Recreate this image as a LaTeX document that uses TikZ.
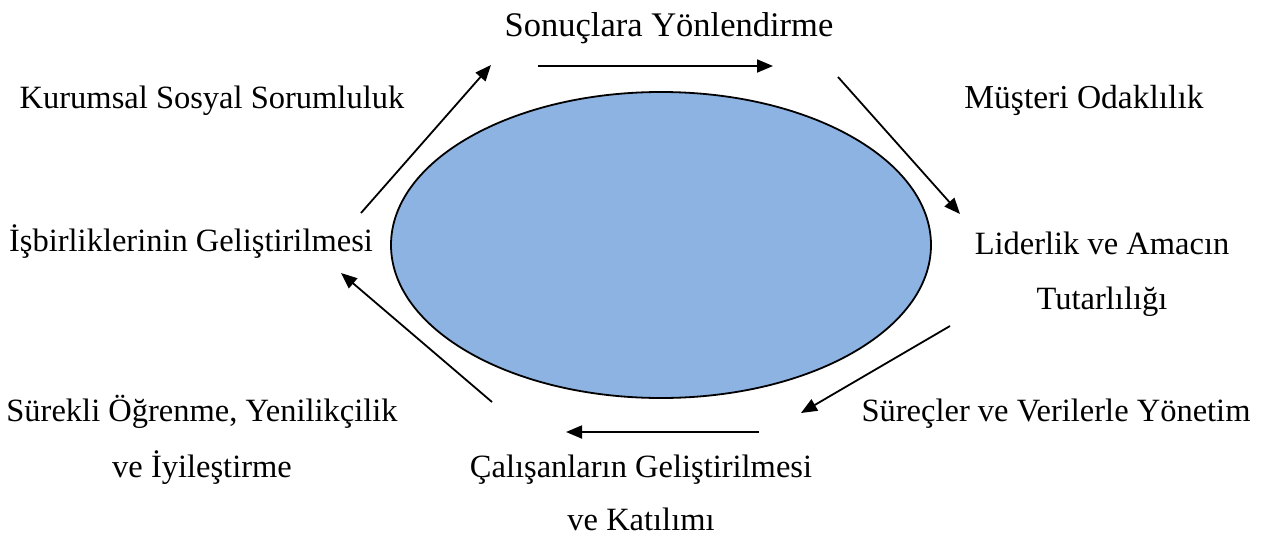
\documentclass[tikz,border=0pt]{standalone}
\usepackage{fontspec}
\setmainfont{Liberation Serif}
\usetikzlibrary{arrows.meta}
\definecolor{ellfill}{HTML}{8DB3E2}
\tikzset{
  lbl/.style={anchor=base, inner sep=0pt, font=\fontsize{32.5}{56}\selectfont, align=center},
  conn/.style={line width=1.8pt, -{Triangle[length=16pt,width=13pt]}},
}
\begin{document}
\begin{tikzpicture}[x=1pt,y=-1pt]
\useasboundingbox (0,0) rectangle (1271,536);
\draw[line width=1.8pt, fill=ellfill] (661,245) ellipse [x radius=270, y radius=153];
\node[lbl, font=\fontsize{34.5}{56}\selectfont] (t1) at (669,36) {Sonuçlara Yönlendirme};
\node[lbl] (t2) at (212,108) {Kurumsal Sosyal Sorumluluk};
\node[lbl, font=\fontsize{33.5}{56}\selectfont] (t3) at (1084,108) {Müşteri Odaklılık};
\node[lbl] (t4) at (191,251) {İşbirliklerinin Geliştirilmesi};
\node[lbl] (t5) at (1102,254) {Liderlik ve Amacın};
\node[lbl] (t6) at (1102,309) {Tutarlılığı};
\node[lbl] (t7) at (202,421) {Sürekli Öğrenme, Yenilikçilik};
\node[lbl] (t8) at (202,477) {ve İyileştirme};
\node[lbl] (t9) at (1056,421) {Süreçler ve Verilerle Yönetim};
\node[lbl] (t10) at (641,477) {Çalışanların Geliştirilmesi};
\node[lbl] (t11) at (641,530) {ve Katılımı};
\coordinate (a1s) at (538,66); \coordinate (a1e) at (773,66);
\coordinate (a2s) at (838,77); \coordinate (a2e) at (960,214);
\coordinate (a3s) at (950,326); \coordinate (a3e) at (801,413);
\coordinate (a4s) at (759,432); \coordinate (a4e) at (566,432);
\coordinate (a5s) at (492,402); \coordinate (a5e) at (341,273);
\coordinate (a6s) at (361,213); \coordinate (a6e) at (491,65);
\draw[conn] (a1s) -- (a1e);
\draw[conn] (a2s) -- (a2e);
\draw[conn] (a3s) -- (a3e);
\draw[conn] (a4s) -- (a4e);
\draw[conn] (a5s) -- (a5e);
\draw[conn] (a6s) -- (a6e);
\end{tikzpicture}
\end{document}
